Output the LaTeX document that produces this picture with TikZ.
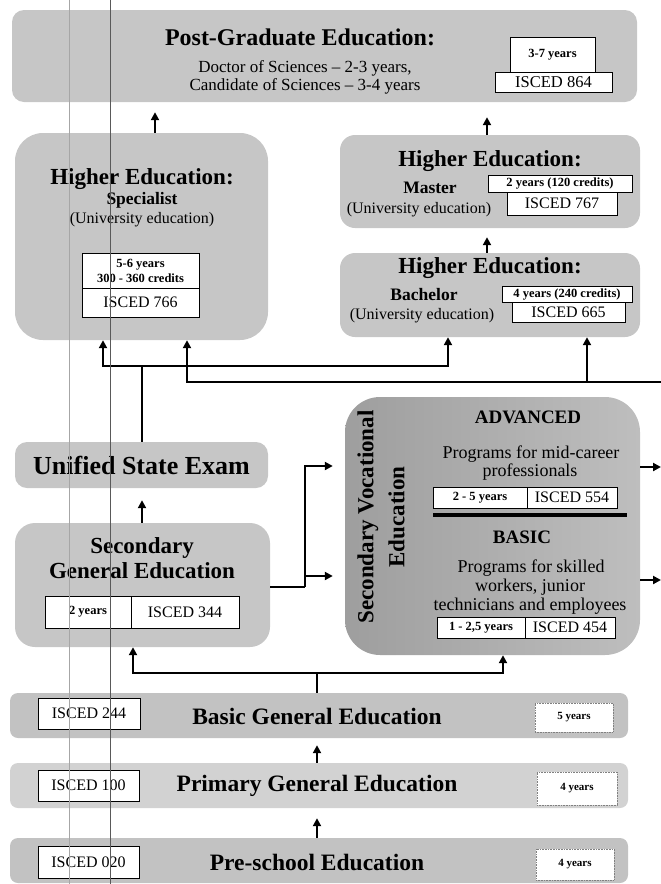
\documentclass[tikz,border=0pt]{standalone}
\usepackage{fontspec}
\setmainfont{Liberation Serif}
\usetikzlibrary{arrows.meta,calc}
\definecolor{boxgray}{HTML}{C6C6C6}
\definecolor{bargray}{HTML}{C2C2C2}
\definecolor{barlight}{HTML}{D2D2D2}
\definecolor{vocdark}{HTML}{9E9E9E}
\definecolor{voclight}{HTML}{BEBEBE}
\newcommand\fsz[2]{\fontsize{#1}{#2}\selectfont}
\begin{document}
\begin{tikzpicture}[x=1pt,y=-1pt,
  gbox/.style={fill=boxgray, draw=none, rounded corners=#1, inner sep=0pt},
  wbox/.style={draw=black, line width=0.8pt, fill=white, inner sep=0pt},
  lbox/.style={draw=black!50, densely dotted, line width=0.6pt, fill=white, inner sep=0pt},
  conn/.style={line width=2.4pt, line join=miter},
  arr/.style={line width=2.4pt, line join=miter, -{Triangle[length=8pt,width=8pt]}},
  htitle/.style={font=\fsz{23}{27}\bfseries, anchor=base},
  subb/.style={font=\fsz{17.5}{21}\bfseries, anchor=base},
  subr/.style={font=\fsz{16}{19}, anchor=base},
  small/.style={font=\fsz{12.5}{15}\bfseries},
  isced/.style={font=\fsz{16}{19}}]
\useasboundingbox (0,0) rectangle (661,884);

% ---------- Post-graduate ----------
\node[gbox=12pt, minimum width=625pt, minimum height=92pt] (pg) at (324.5,56) {};
\node[font=\fsz{24}{28}\bfseries, anchor=base] (pgt) at (300,45) {Post-Graduate Education:};
\node[font=\fsz{17}{19}, anchor=base] (pgl1) at (305,72) {Doctor of Sciences -- 2-3 years,};
\node[font=\fsz{17}{19}, anchor=base] (pgl2) at (305,90) {Candidate of Sciences -- 3-4 years};
\node[wbox, minimum width=85pt, minimum height=35pt, small] (pgy) at (552.5,54.5) {3-7 years};
\node[wbox, minimum width=117pt, minimum height=20pt, font=\fsz{16.5}{19}] (pgi) at (553.5,82) {ISCED 864};

% ---------- Specialist ----------
\node[gbox=28pt, minimum width=253pt, minimum height=207pt] (spec) at (141.5,236.5) {};
\node[htitle] (spect) at (142,184) {Higher Education:};
\node[subb] (specs) at (142,204) {Specialist};
\node[subr] (specu) at (142,223) {(University education)};
\node[wbox, minimum width=117pt, minimum height=35pt, small, align=center] (specy) at (140.5,270.5) {5-6 years\\300 - 360 credits};
\node[wbox, minimum width=117pt, minimum height=29pt, isced] (speci) at (140.5,302.5) {ISCED 766};

% ---------- Master ----------
\node[gbox=15pt, minimum width=300pt, minimum height=93pt] (mas) at (490,181.5) {};
\node[htitle] (mast) at (490,166) {Higher Education:};
\node[subb] (mass) at (430,193) {Master};
\node[subr] (masu) at (419,213) {(University education)};
\node[wbox, minimum width=144pt, minimum height=17pt, small] (masy) at (560,183.5) {2 years (120 credits)};
\node[wbox, minimum width=110pt, minimum height=23pt, isced] (masi) at (562,203.5) {ISCED 767};

% ---------- Bachelor ----------
\node[gbox=15pt, minimum width=300pt, minimum height=84pt] (bac) at (490,295) {};
\node[htitle] (bact) at (490,273) {Higher Education:};
\node[subb] (bacs) at (424,300) {Bachelor};
\node[subr] (bacu) at (422,319) {(University education)};
\node[wbox, minimum width=130pt, minimum height=16pt, small] (bacy) at (567,294.5) {4 years (240 credits)};
\node[wbox, minimum width=113pt, minimum height=20pt, isced] (baci) at (568.5,312) {ISCED 665};

% ---------- Unified State Exam ----------
\node[gbox=12pt, minimum width=253pt, minimum height=46pt, font=\fsz{26}{30}\bfseries] (use) at (141.5,465) {Unified State Exam};

% ---------- Secondary General ----------
\node[gbox=20pt, minimum width=255pt, minimum height=124pt] (sec) at (142.5,585) {};
\node[htitle] (sect1) at (142,553) {Secondary};
\node[htitle] (sect2) at (142,578) {General Education};
\node[wbox, minimum width=86pt, minimum height=32pt, small] (secy) at (88,612) {2 years};
\node[wbox, minimum width=108pt, minimum height=32pt, isced] (seci) at (185,612) {ISCED 344};

% ---------- Secondary Vocational ----------
\node[rounded corners=35pt, inner sep=0pt, minimum width=295pt, minimum height=258pt,
      left color=vocdark, right color=voclight] (voc) at (492.5,526) {};
\node[rotate=90, align=center, font=\fsz{23}{31}\bfseries] (voct) at (381,517) {Secondary Vocational\\Education};
\node[font=\fsz{19}{22}\bfseries, anchor=base] (adv) at (528,423) {ADVANCED};
\node[font=\fsz{18}{21}, anchor=base] (adv1) at (531,458) {Programs for mid-career};
\node[font=\fsz{18}{21}, anchor=base] (adv2) at (530,476) {professionals};
\node[wbox, minimum width=94pt, minimum height=21pt, small] (advy) at (480,497.5) {2 - 5 years};
\node[wbox, minimum width=90pt, minimum height=21pt, isced] (advi) at (572,497.5) {ISCED 554};
\coordinate (sepL) at (433,515);
\coordinate (sepR) at (627,515);
\draw[line width=4pt] (sepL) -- (sepR);
\node[font=\fsz{19}{22}\bfseries, anchor=base] (bas) at (522,543) {BASIC};
\node[font=\fsz{18}{21}, anchor=base] (bas1) at (531,572) {Programs for skilled};
\node[font=\fsz{18}{21}, anchor=base] (bas2) at (530,591) {workers, junior};
\node[font=\fsz{18}{21}, anchor=base] (bas3) at (530,610) {technicians and employees};
\node[wbox, minimum width=88pt, minimum height=21pt, small] (basy) at (481,627.5) {1 - 2,5 years};
\node[wbox, minimum width=90pt, minimum height=21pt, isced] (basi) at (570,627.5) {ISCED 454};

% ---------- Bars ----------
\node[fill=bargray, rounded corners=8pt, inner sep=0pt, minimum width=618pt, minimum height=45pt] (bge) at (319,715.5) {};
\node[font=\fsz{23.5}{27}\bfseries] (bget) at (317,716) {Basic General Education};
\node[wbox, minimum width=102pt, minimum height=31pt, isced] (bgei) at (89,713.5) {ISCED 244};
\node[lbox, minimum width=78pt, minimum height=29pt, font=\fsz{11}{13}\bfseries] (bgey) at (574,717.5) {5 years};

\node[fill=barlight, rounded corners=8pt, inner sep=0pt, minimum width=618pt, minimum height=45pt] (pri) at (319,785.5) {};
\node[font=\fsz{23.5}{27}\bfseries] (prit) at (317,786) {Primary General Education};
\node[wbox, minimum width=101pt, minimum height=31pt, isced] (prii) at (88.5,785.5) {ISCED 100};
\node[lbox, minimum width=80pt, minimum height=33pt, font=\fsz{11}{13}\bfseries] (priy) at (577,788.5) {4 years};

\node[fill=bargray, rounded corners=8pt, inner sep=0pt, minimum width=618pt, minimum height=45pt] (pre) at (319,860.5) {};
\node[font=\fsz{23.5}{27}\bfseries] (pret) at (317,862) {Pre-school Education};
\node[wbox, minimum width=101pt, minimum height=32pt, isced] (prei) at (88.5,862) {ISCED 020};
\node[lbox, minimum width=78pt, minimum height=31pt, font=\fsz{11}{13}\bfseries] (prey) at (575,864.5) {4 years};

% ---------- Connectors ----------
\coordinate (xa) at (155,0);
\coordinate (xb) at (487,0);
\draw[arr, shorten >=10pt] (spec.north -| xa) -- (pg.south -| xa);
\draw[arr, shorten >=15pt] (mas.north -| xb) -- (pg.south -| xb);
\draw[arr, shorten >=9pt] (bac.north -| xb) -- (mas.south -| xb);

\coordinate (jA) at (142,366);
\coordinate (a1) at (103,366);
\coordinate (a2) at (448,366);
\draw[conn] (use.north -| jA) -- (jA);
\draw[arr] (jA) -| (spec.south -| a1);
\draw[arr] (jA) -| (bac.south -| a2);

\coordinate (bR) at (661,382);
\coordinate (b1) at (187,382);
\coordinate (b2) at (587,382);
\draw[arr] (bR) -| (spec.south -| b1);
\draw[arr] (b2) -- (bac.south -| b2);

\draw[arr, shorten >=12pt] (sec.north -| jA) -- (use.south -| jA);

\coordinate (br) at (305,587);
\coordinate (v1) at (305,466);
\coordinate (t2) at (305,576);
\draw[conn] (sec.east |- br) -- (br);
\draw[arr, shorten >=12pt] (br) |- (voc.west |- v1);
\draw[arr, shorten >=12pt] (t2) -- (voc.west |- t2);

\coordinate (r1) at (661,467);
\coordinate (r2) at (661,580);
\draw[arr] (voc.east |- r1) -- (r1);
\draw[arr] (voc.east |- r2) -- (r2);

\coordinate (jB) at (317,673);
\coordinate (c1) at (133,673);
\coordinate (c2) at (503,673);
\draw[conn] (bge.north -| jB) -- (jB);
\draw[arr] (jB) -| (sec.south -| c1);
\draw[arr] (jB) -| (voc.south -| c2);

\draw[arr, shorten >=7pt] (pri.north -| jB) -- (bge.south -| jB);
\draw[arr, shorten >=10pt] (pre.north -| jB) -- (pri.south -| jB);

% ---------- scan lines ----------
\draw[black!35, line width=0.5pt] (69,0) -- (69,884);
\draw[black!65, line width=0.9pt] (110,0) -- (110,884);
\end{tikzpicture}
\end{document}
